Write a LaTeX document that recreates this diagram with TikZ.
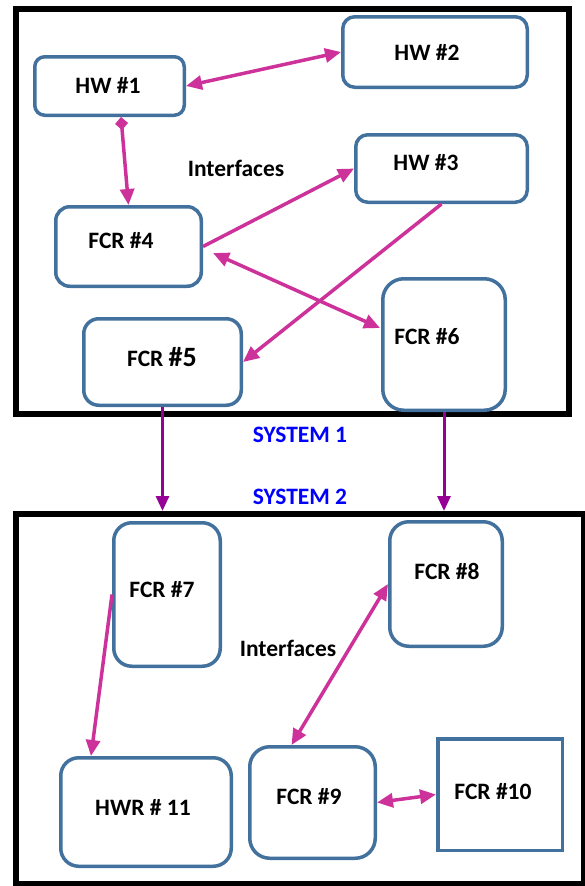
\documentclass[tikz,border=0pt]{standalone}
\usepackage{fontspec}
\setmainfont{Carlito}
\usetikzlibrary{arrows.meta,calc}
\definecolor{boxblue}{RGB}{65,113,156}
\definecolor{linkpink}{RGB}{205,50,155}
\definecolor{flowpurple}{RGB}{150,0,150}
\definecolor{sysblue}{RGB}{0,0,255}
\begin{document}
\begin{tikzpicture}[x=1pt,y=-1pt,
  unit/.style={draw=boxblue,line width=3.5pt,fill=white,inner sep=0pt,rounded corners=#1},
  squareunit/.style={draw=boxblue,line width=3.5pt,fill=white,inner sep=0pt},
  sysframe/.style={draw=black,line width=6pt,inner sep=0pt},
  lbl/.style={inner sep=0pt,font=\bfseries\fontsize{23.5}{27}\selectfont},
  syslbl/.style={inner sep=0pt,text=sysblue,font=\bfseries\fontsize{23.5}{27}\selectfont},
  link/.style={draw=linkpink,line width=3.5pt},
  linkboth/.style={link,{Triangle[length=16pt,width=14pt]}-{Triangle[length=16pt,width=14pt]}},
  linkone/.style={link,-{Triangle[length=16pt,width=14pt]}},
  flow/.style={draw=flowpurple,line width=3pt,-{Triangle[length=15pt,width=13pt]}}
]
\useasboundingbox (0,0) rectangle (585,886);

% system frames
\node[sysframe,minimum width=552.5pt,minimum height=404.5pt] (sys1) at (292.25,211.25) {};
\node[sysframe,minimum width=567.7pt,minimum height=370pt] (sys2) at (300.15,699) {};

% units of system 1
\node[unit=10pt,minimum width=149.5pt,minimum height=58.5pt] (hw1) at (109.5,86) {};
\node[unit=12pt,minimum width=184.5pt,minimum height=70.5pt] (hw2) at (435,52) {};
\node[unit=12pt,minimum width=171.5pt,minimum height=67.5pt] (hw3) at (441.5,168.5) {};
\node[unit=14pt,minimum width=145.5pt,minimum height=79.5pt] (fcr4) at (128.5,246.5) {};
\node[unit=15pt,minimum width=157.5pt,minimum height=86.5pt] (fcr5) at (162.5,362) {};
\node[unit=21pt,minimum width=122.5pt,minimum height=131.5pt] (fcr6) at (444,344.5) {};

% units of system 2
\node[unit=18pt,minimum width=106.5pt,minimum height=143.5pt] (fcr7) at (167,594.5) {};
\node[unit=19pt,minimum width=112.5pt,minimum height=124.5pt] (fcr8) at (446,584) {};
\node[unit=18pt,minimum width=170.5pt,minimum height=108.5pt] (hwr11) at (146,812) {};
\node[unit=20pt,minimum width=125.5pt,minimum height=111.5pt] (fcr9) at (312.5,802.5) {};
\node[squareunit,minimum width=124.5pt,minimum height=111.5pt] (fcr10) at (500,794.5) {};

% captions
\node[lbl] (thw1) at (108,85) {HW \#1};
\node[lbl] (thw2) at (427,52) {HW \#2};
\node[lbl] (thw3) at (426,163) {HW \#3};
\node[lbl] (tfcr4) at (121,241) {FCR \#4};
\node[lbl] (tfcr5) at (162,357) {FCR {\fontsize{28}{31}\selectfont\#5}};
\node[lbl] (tfcr6) at (427,337) {FCR \#6};
\node[lbl] (tfcr7) at (162,590) {FCR \#7};
\node[lbl] (tfcr8) at (447,571) {FCR \#8};
\node[lbl] (thwr11) at (143,807) {HWR \# 11};
\node[lbl] (tfcr9) at (309,797) {FCR \#9};
\node[lbl] (tfcr10) at (493,792) {FCR \#10};
\node[lbl] (if1) at (236,168) {Interfaces};
\node[lbl] (if2) at (288,648) {Interfaces};
\node[syslbl] (s1) at (300,435) {SYSTEM 1};
\node[syslbl] (s2) at (300,497) {SYSTEM 2};

% interfaces inside system 1
\draw[linkboth] (hw1.east) -- (hw2.west);
\draw[link,{Diamond[length=13pt,width=13pt]}-{Triangle[length=16pt,width=14pt]}]
  ([xshift=11.5pt]hw1.south) -- (fcr4.north);
\draw[linkone] (fcr4.east) -- (hw3.west);
\draw[linkboth] ($(fcr4.east)+(10,6.5)$) -- ($(fcr6.west)+(-1,-16.5)$);
\draw[linkone] (hw3.south) -- (fcr5.east);

% flows from system 1 into system 2
\draw[flow] (fcr5.south) -- (fcr5.south |- sys2.north);
\draw[flow] (fcr6.south) -- (fcr6.south |- sys2.north);

% interfaces inside system 2
\draw[linkone] (fcr7.west) -- ([xshift=-55pt]hwr11.north);
\draw[linkboth] (fcr8.west) -- ([xshift=-21pt]fcr9.north);
\draw[linkboth] (fcr9.east) -- (fcr10.west);
\end{tikzpicture}
\end{document}
